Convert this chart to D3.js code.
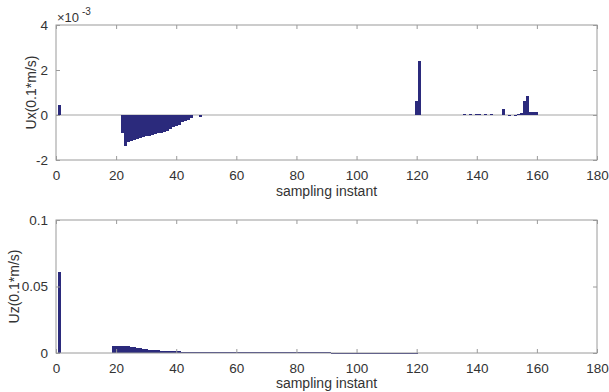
<!DOCTYPE html>
<html>
<head>
<meta charset="utf-8">
<script src="https://cdn.jsdelivr.net/npm/d3@7"></script>
<style>
  body { margin: 0; background: #fff; }
  text { font-family: "Liberation Sans", Arial, sans-serif; fill: #333; }
</style>
</head>
<body>
<div id="chart"></div>
<script>
// Ux values (x 1e-3), one per sampling instant
const uxSamples = [1, 22, 23, 24, 25, 26, 27, 28, 29, 30, 31, 32, 33, 34, 35, 36, 37, 38, 39, 40,
  41, 42, 43, 44, 45, 48, 120, 121, 136, 138, 140, 141, 143, 145, 149, 151, 153, 154, 155, 156, 157, 158, 159, 160];
const uxValues = [0.45, -0.78, -1.40, -1.22, -1.15, -1.10, -1.05, -1.01, -0.98, -0.95, -0.92, -0.89, -0.86, -0.82, -0.78, -0.74, -0.70, -0.62, -0.52, -0.48,
  -0.46, -0.32, -0.27, -0.22, -0.12, -0.07, 0.60, 2.38, 0.03, 0.04, 0.04, 0.03, 0.04, 0.03, 0.25, 0.02, 0.02, 0.05, 0.10, 0.62, 0.86, 0.14, 0.13, 0.12];

// Uz values, sample 1 then samples 19..120
const uzFirst = 0.061;
const uzStart = 19;
const uzValues = [
  0.0056, 0.0056, 0.0055, 0.0054, 0.0052, 0.0050, 0.0047, 0.0044, 0.0040, 0.0036,
  0.0032, 0.0029, 0.0026, 0.0024, 0.0022, 0.0020, 0.0018, 0.0017, 0.0015, 0.0014,
  0.0013, 0.0012, 0.0012, 0.0011, 0.0011, 0.0010, 0.0010, 0.0009, 0.0009, 0.0009,
  0.0008, 0.0008, 0.0008, 0.0008, 0.0007, 0.0007, 0.0007, 0.0007, 0.0006, 0.0006,
  0.0006, 0.0006, 0.0006, 0.0006, 0.0005, 0.0005, 0.0005, 0.0005, 0.0005, 0.0005,
  0.0005, 0.0005, 0.0005, 0.0004, 0.0004, 0.0004, 0.0004, 0.0004, 0.0004, 0.0004,
  0.0004, 0.0004, 0.0004, 0.0004, 0.0004, 0.0004, 0.0004, 0.0004, 0.0004, 0.0004,
  0.0004, 0.0004, 0.0004, 0.0003, 0.0003, 0.0003, 0.0003, 0.0003, 0.0003, 0.0003,
  0.0003, 0.0003, 0.0003, 0.0003, 0.0003, 0.0003, 0.0003, 0.0003, 0.0003, 0.0003,
  0.0003, 0.0003, 0.0003, 0.0003, 0.0003, 0.0003, 0.0003, 0.0003, 0.0003, 0.0003,
  0.0003, 0.0003
];

const xTicks = [0, 20, 40, 60, 80, 100, 120, 140, 160, 180];
const uxTicks = [-2, 0, 2, 4];
const uzTicks = [0, 0.05, 0.1];

const width = 609, height = 392;
const barColor = '#2b2a7c';
const axisColor = '#9a9a9a';

const svg = d3.select('#chart').append('svg')
  .attr('width', width)
  .attr('height', height);

const x = d3.scaleLinear().domain([0, 180]).range([56, 597]);

function drawAxes(y, yTicks, yFmt, top, bottom) {
  const g = svg.append('g');
  // inward ticks on all four sides, like matlab
  g.append('g')
    .attr('transform', `translate(0,${bottom})`)
    .call(d3.axisBottom(x).tickValues(xTicks).tickSize(-4).tickPadding(10).tickFormat(d => d));
  g.append('g')
    .attr('transform', `translate(0,${top})`)
    .call(d3.axisTop(x).tickValues(xTicks).tickSize(-4).tickFormat(''));
  g.append('g')
    .attr('transform', `translate(${x.range()[0]},0)`)
    .call(d3.axisLeft(y).tickValues(yTicks).tickSize(-4).tickPadding(8).tickFormat(yFmt));
  g.append('g')
    .attr('transform', `translate(${x.range()[1]},0)`)
    .call(d3.axisRight(y).tickValues(yTicks).tickSize(-4).tickFormat(''));
  g.selectAll('.domain').remove();
  g.selectAll('.tick line').attr('stroke', axisColor);
  g.selectAll('.tick text').style('font-size', '13.5px').attr('fill', '#333');
  g.append('rect')
    .attr('x', x.range()[0]).attr('y', top)
    .attr('width', x.range()[1] - x.range()[0]).attr('height', bottom - top)
    .attr('fill', 'none').attr('stroke', axisColor);
  return g;
}

// bars are one sample wide, snapped to pixels so neighbours join without seams
function barX(n) { return Math.round(x(n - 0.5)); }
function barW(n) { return Math.round(x(n + 0.5)) - Math.round(x(n - 0.5)); }

// ---- top plot: Ux ----
const yUx = d3.scaleLinear().domain([-2, 4]).range([160, 25]);
const uxData = uxSamples.map((n, i) => ({ n: n, v: uxValues[i] }));

svg.append('line')
  .attr('x1', x(0)).attr('x2', x(180))
  .attr('y1', yUx(0)).attr('y2', yUx(0))
  .attr('stroke', '#d2d2d2').attr('stroke-width', 2);

svg.append('g')
  .attr('shape-rendering', 'crispEdges')
  .selectAll('rect')
  .data(uxData)
  .join('rect')
    .attr('x', d => barX(d.n))
    .attr('width', d => barW(d.n))
    .attr('y', d => Math.round(Math.min(yUx(d.v), yUx(0))))
    .attr('height', d => Math.max(1, Math.round(Math.abs(yUx(d.v) - yUx(0)))))
    .attr('fill', barColor);

drawAxes(yUx, uxTicks, d => String(d), 25, 160);

svg.append('text')
  .attr('x', 57).attr('y', 22)
  .style('font-size', '13px')
  .text('\u00d710');
svg.append('text')
  .attr('x', 82).attr('y', 15)
  .style('font-size', '10px')
  .text('-3');

svg.append('text')
  .attr('transform', `translate(36,${(25 + 160) / 2}) rotate(-90)`)
  .attr('text-anchor', 'middle')
  .style('font-size', '14px')
  .text('Ux(0.1*m/s)');

svg.append('text')
  .attr('x', (x(0) + x(180)) / 2).attr('y', 196)
  .attr('text-anchor', 'middle')
  .style('font-size', '14px')
  .text('sampling instant');

// ---- bottom plot: Uz ----
const yUz = d3.scaleLinear().domain([0, 0.1]).range([353, 220]);
const uzData = [{ n: 1, v: uzFirst }].concat(uzValues.map((v, i) => ({ n: uzStart + i, v: v })));

svg.append('g')
  .attr('shape-rendering', 'crispEdges')
  .selectAll('rect')
  .data(uzData)
  .join('rect')
    .attr('x', d => barX(d.n))
    .attr('width', d => barW(d.n))
    .attr('y', d => yUz(d.v))
    .attr('height', d => Math.max(1, yUz(0) - yUz(d.v)))
    .attr('fill', barColor);

drawAxes(yUz, uzTicks, d => d === 0 ? '0' : String(d), 220, 353);

svg.append('text')
  .attr('transform', `translate(19,${(220 + 353) / 2}) rotate(-90)`)
  .attr('text-anchor', 'middle')
  .style('font-size', '14px')
  .text('Uz(0.1*m/s)');

svg.append('text')
  .attr('x', (x(0) + x(180)) / 2).attr('y', 388)
  .attr('text-anchor', 'middle')
  .style('font-size', '14px')
  .text('sampling instant');
</script>
</body>
</html>
